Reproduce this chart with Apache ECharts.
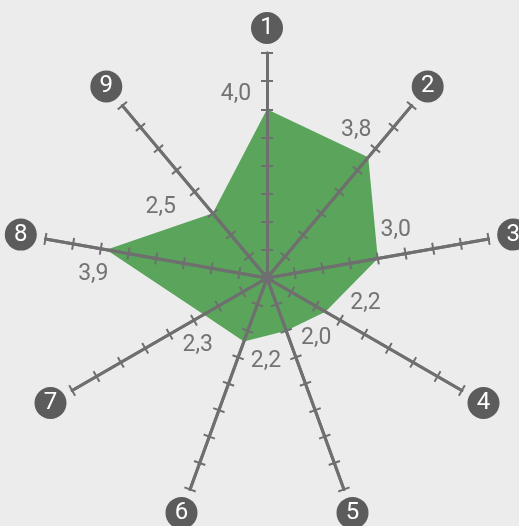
<!DOCTYPE html>
<html>
<head>
<meta charset="utf-8">
<script src="https://cdn.jsdelivr.net/npm/echarts@6/dist/echarts.min.js"></script>
<style>
  html, body { margin: 0; padding: 0; background: #ececec; }
  #chart { width: 519px; height: 526px; }
</style>
</head>
<body>
<div id="chart"></div>
<script>
// axis names and values, clockwise from the top
var axisNames = ['1', '2', '3', '4', '5', '6', '7', '8', '9'];
var scores = [4.0, 3.8, 3.0, 2.2, 2.0, 2.2, 2.3, 3.9, 2.5];
var axisMin = 1;
var axisMax = 5;

// label offsets from the vertex, per axis (px)
var labelOffsets = [[-31, -15], [-12, -27], [18, -28], [40, -9], [30, 7], [22, 20], [-6, 31], [-13, 25], [-52, -6]];

var center = [267, 278];
var radius = 225;
var font = 'Roboto';
var gray = '#6f6f6f';

// echarts radar runs counter-clockwise, so feed it in reverse
var order = [0, 8, 7, 6, 5, 4, 3, 2, 1];
var indicators = order.map(function (i) {
  return { name: axisNames[i], min: axisMin, max: axisMax };
});
var values = order.map(function (i) {
  return scores[i];
});

var myChart = echarts.init(document.getElementById('chart'));

// tickLen < 0 puts the ticks on the other side of the axis
function radarBase(tickLen) {
  return {
    center: center,
    radius: radius,
    startAngle: 90,
    splitNumber: 8,
    indicator: indicators,
    z: 3,
    axisLine: { show: true, lineStyle: { color: gray, width: 3 } },
    axisTick: { show: true, length: tickLen, lineStyle: { color: gray, width: 2 } },
    // ticks only get drawn with labels on
    axisLabel: { show: true, color: 'rgba(0,0,0,0)', fontSize: 1 },
    splitLine: { show: false },
    splitArea: { show: false }
  };
}

var radar0 = radarBase(6);
radar0.axisNameGap = 25;
radar0.axisName = {
  align: 'center',
  verticalAlign: 'middle',
  formatter: function (v) {
    return '{c|' + v + '}';
  },
  rich: {
    c: {
      width: 32,
      height: 32,
      lineHeight: 32,
      borderRadius: 16,
      backgroundColor: '#5c5c5c',
      color: '#fff',
      fontSize: 24,
      fontFamily: font,
      align: 'center'
    }
  }
};
var radar1 = radarBase(-6);
radar1.axisName = { show: false };

var option = {
  backgroundColor: '#ececec',
  animation: false,
  radar: [radar0, radar1],
  series: [
    {
      type: 'radar',
      radarIndex: 0,
      z: 2,
      silent: true,
      symbol: 'none',
      lineStyle: { width: 0 },
      areaStyle: { color: '#5aa45c', opacity: 1 },
      data: [{ value: values }]
    },
    {
      type: 'radar',
      radarIndex: 0,
      z: 5,
      silent: true,
      symbol: 'circle',
      symbolSize: 1,
      itemStyle: { color: 'rgba(0,0,0,0)' },
      lineStyle: { width: 0, opacity: 0 },
      label: {
        show: true,
        opacity: 1,
        color: '#737373',
        fontSize: 23,
        fontFamily: font,
        formatter: function (p) {
          return p.value.toFixed(1).replace('.', ',');
        }
      },
      labelLayout: function (params) {
        var px = params.rect.x + params.rect.width / 2;
        var py = params.rect.y + params.rect.height / 2;
        var deg = Math.atan2(px - center[0], center[1] - py) * 180 / Math.PI;
        deg = (deg + 360) % 360;
        var k = Math.round(deg / 40) % 9;
        return {
          x: px + labelOffsets[k][0],
          y: py + labelOffsets[k][1],
          align: 'center',
          verticalAlign: 'middle'
        };
      },
      data: [{ value: values }]
    }
  ]
};

myChart.setOption(option);
window.addEventListener('resize', function () {
  myChart.resize();
});
</script>
</body>
</html>
